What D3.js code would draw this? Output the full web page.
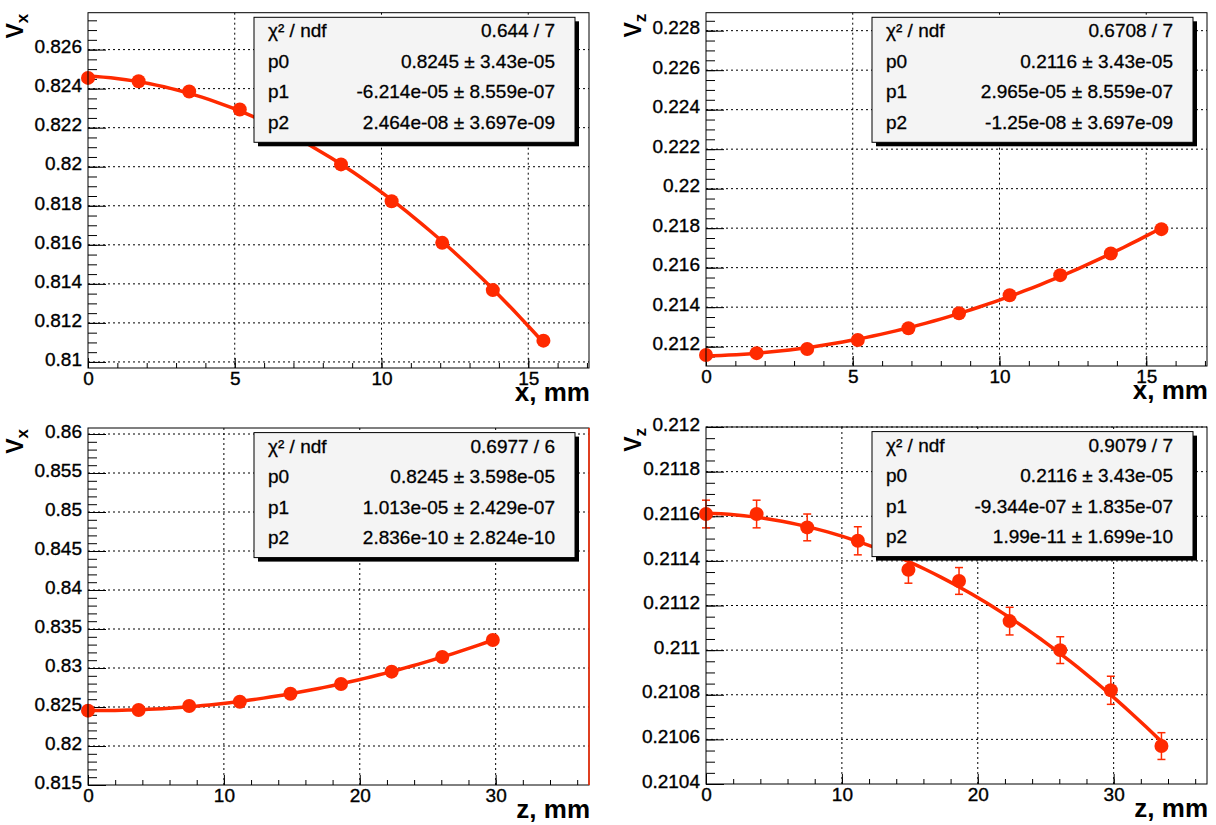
<!DOCTYPE html>
<html>
<head>
<meta charset="utf-8">
<script src="https://cdn.jsdelivr.net/npm/d3@7"></script>
<style>
  body { margin: 0; background: #fff; }
  svg { display: block; }
</style>
</head>
<body>
<svg id="chart" width="1216" height="825"></svg>
<script>
// positions along the scan, mm
const xPositions = [0, 1.724, 3.448, 5.172, 6.897, 8.621, 10.345, 12.069, 13.793, 15.517];
const zPositions = [0, 3.724, 7.448, 11.172, 14.897, 18.621, 22.345, 26.069, 29.793, 33.517];

// measured components
const vxAlongX = [0.82455, 0.82438, 0.82385, 0.82293, 0.82165, 0.82012, 0.81823, 0.8161, 0.81368, 0.81109];
const vzAlongX = [0.21158, 0.21167, 0.21188, 0.21234, 0.21293, 0.21369, 0.2146, 0.21562, 0.21672, 0.21795];
const vxAlongZ = [0.82453, 0.82462, 0.82513, 0.82568, 0.8267, 0.82795, 0.82953, 0.83141, 0.83359];
const vzAlongZ = [0.21161, 0.21161, 0.21155, 0.21149, 0.21136, 0.21131, 0.21113, 0.211, 0.21082, 0.21057];
const vzAlongZErr = [0.000062, 0.000062, 0.00006, 0.000063, 0.00006, 0.00006, 0.000062, 0.00006, 0.000063, 0.00006];

// tick labels
const xTicksShort = [0, 5, 10, 15];
const xTicksLong = [0, 10, 20, 30];
const yTicksVxX = [0.81, 0.812, 0.814, 0.816, 0.818, 0.82, 0.822, 0.824, 0.826];
const yTicksVzX = [0.212, 0.214, 0.216, 0.218, 0.22, 0.222, 0.224, 0.226, 0.228];
const yTicksVxZ = [0.815, 0.82, 0.825, 0.83, 0.835, 0.84, 0.845, 0.85, 0.855, 0.86];
const yTicksVzZ = [0.2104, 0.2106, 0.2108, 0.211, 0.2112, 0.2114, 0.2116, 0.2118, 0.212];

// fit statistics boxes
const statRowLabels = ["χ² / ndf", "p0", "p1", "p2"];
const statsVxX = ["0.644 / 7", "0.8245 ± 3.43e-05", "-6.214e-05 ± 8.559e-07", "2.464e-08 ± 3.697e-09"];
const statsVzX = ["0.6708 / 7", "0.2116 ± 3.43e-05", "2.965e-05 ± 8.559e-07", "-1.25e-08 ± 3.697e-09"];
const statsVxZ = ["0.6977 / 6", "0.8245 ± 3.598e-05", "1.013e-05 ± 2.429e-07", "2.836e-10 ± 2.824e-10"];
const statsVzZ = ["0.9079 / 7", "0.2116 ± 3.43e-05", "-9.344e-07 ± 1.835e-07", "1.99e-11 ± 1.699e-10"];

const red = "#ff2a00";
const font = "'Liberation Sans', Arial, Helvetica, sans-serif";
const svg = d3.select("#chart");

const panels = [
  { frame: [88, 12.7, 589, 368], xs: xPositions, ys: vxAlongX, errs: null,
    xDomain: [0, 17.07], yDomain: [0.80969, 0.82789], xTicks: xTicksShort, xMinor: 1,
    yTicks: yTicksVxX, yMinor: 0.0005, yName: "x", xName: "x, mm", stats: statsVxX },
  { frame: [706, 12.7, 1207, 366], xs: xPositions, ys: vzAlongX, errs: null,
    xDomain: [0, 17.07], yDomain: [0.21102, 0.22891], xTicks: xTicksShort, xMinor: 1,
    yTicks: yTicksVzX, yMinor: 0.0005, yName: "z", xName: "x, mm", stats: statsVzX },
  { frame: [88, 428, 589, 785], xs: zPositions.slice(0, vxAlongZ.length), ys: vxAlongZ, errs: null,
    xDomain: [0, 36.87], yDomain: [0.815, 0.86077], xTicks: xTicksLong, xMinor: 2,
    yTicks: yTicksVxZ, yMinor: 0.001, yName: "x", xName: "z, mm", stats: statsVxZ, redEdge: true },
  { frame: [706, 427, 1207, 784], xs: zPositions, ys: vzAlongZ, errs: vzAlongZErr,
    xDomain: [0, 36.87], yDomain: [0.2104, 0.212], xTicks: xTicksLong, xMinor: 2,
    yTicks: yTicksVzZ, yMinor: 0.00005, yName: "z", xName: "z, mm", stats: statsVzZ }
];

const fmt = d => String(+d.toFixed(5));
const minorRange = (dom, step) => d3.range(Math.ceil(dom[0] / step - 1e-6) * step, dom[1], step);

// least squares pol2 through the points, like the fit drawn in the original
function fitPol2(xs, ys) {
  const S = k => d3.sum(xs, v => Math.pow(v, k));
  const T = k => d3.sum(xs, (v, i) => Math.pow(v, k) * ys[i]);
  const m = [[S(0), S(1), S(2), T(0)], [S(1), S(2), S(3), T(1)], [S(2), S(3), S(4), T(2)]];
  for (let c = 0; c < 3; c++) {
    for (let r = c + 1; r < 3; r++) {
      const f = m[r][c] / m[c][c];
      for (let k = c; k < 4; k++) m[r][k] -= f * m[c][k];
    }
  }
  const a = [0, 0, 0];
  for (let r = 2; r >= 0; r--) {
    let s = m[r][3];
    for (let k = r + 1; k < 3; k++) s -= m[r][k] * a[k];
    a[r] = s / m[r][r];
  }
  return v => a[0] + a[1] * v + a[2] * v * v;
}

panels.forEach(p => {
  const [x0, y0, x1, y1] = p.frame;
  const x = d3.scaleLinear().domain(p.xDomain).range([x0, x1]);
  const y = d3.scaleLinear().domain(p.yDomain).range([y1, y0]);
  const g = svg.append("g");

  // grid
  g.selectAll(null).data(p.xTicks.filter(d => d > p.xDomain[0])).enter().append("line")
    .attr("x1", d => x(d)).attr("x2", d => x(d)).attr("y1", y0).attr("y2", y1)
    .attr("stroke", "#000").attr("stroke-dasharray", "2,3");
  g.selectAll(null).data(p.yTicks.filter(d => d > p.yDomain[0] + 1e-9)).enter().append("line")
    .attr("x1", x0).attr("x2", x1).attr("y1", d => y(d)).attr("y2", d => y(d))
    .attr("stroke", "#000").attr("stroke-dasharray", "2,3");

  // axes, ticks pointing inward
  const xMinorAxis = g.append("g").attr("transform", `translate(0,${y1})`)
    .call(d3.axisBottom(x).tickValues(minorRange(p.xDomain, p.xMinor)).tickSize(-5).tickFormat(""));
  const xAxis = g.append("g").attr("transform", `translate(0,${y1})`)
    .call(d3.axisBottom(x).tickValues(p.xTicks).tickSize(-10).tickPadding(3).tickFormat(fmt));
  const yMinorAxis = g.append("g").attr("transform", `translate(${x0},0)`)
    .call(d3.axisLeft(y).tickValues(minorRange(p.yDomain, p.yMinor)).tickSize(-9).tickFormat(""));
  const yAxis = g.append("g").attr("transform", `translate(${x0},0)`)
    .call(d3.axisLeft(y).tickValues(p.yTicks).tickSize(-18).tickPadding(6).tickFormat(fmt));

  [xMinorAxis, xAxis, yMinorAxis, yAxis].forEach(a => {
    a.select(".domain").remove();
    a.selectAll(".tick line").attr("stroke", "#000");
    a.selectAll(".tick text")
      .attr("fill", "#000").attr("stroke", "#000").attr("stroke-width", 0.35)
      .style("font-family", font)
      .style("font-size", "19px");
  });
  yAxis.selectAll(".tick text").attr("dy", "0.17em");

  // fitted curve
  const pts = p.xs.map((d, i) => ({ x: d, y: p.ys[i], e: p.errs ? p.errs[i] : 0 }));
  const f = fitPol2(p.xs, p.ys);
  const xsFit = d3.range(0, 61).map(i => p.xs[0] + (p.xs[p.xs.length - 1] - p.xs[0]) * i / 60);
  const line = d3.line().x(d => x(d)).y(d => y(f(d)));
  g.append("path").datum(xsFit).attr("d", line)
    .attr("fill", "none").attr("stroke", red).attr("stroke-width", 3.5);

  // error bars
  if (p.errs) {
    const eb = g.selectAll(null).data(pts).enter().append("g").attr("stroke", red).attr("stroke-width", 1.5);
    eb.append("line").attr("x1", d => x(d.x)).attr("x2", d => x(d.x))
      .attr("y1", d => y(d.y - d.e)).attr("y2", d => y(d.y + d.e));
    eb.append("line").attr("x1", d => x(d.x) - 4).attr("x2", d => x(d.x) + 4)
      .attr("y1", d => y(d.y - d.e)).attr("y2", d => y(d.y - d.e));
    eb.append("line").attr("x1", d => x(d.x) - 4).attr("x2", d => x(d.x) + 4)
      .attr("y1", d => y(d.y + d.e)).attr("y2", d => y(d.y + d.e));
  }

  // markers
  g.selectAll(null).data(pts).enter().append("circle")
    .attr("cx", d => x(d.x)).attr("cy", d => y(d.y)).attr("r", 7).attr("fill", red);

  // frame
  g.append("rect").attr("x", x0).attr("y", y0).attr("width", x1 - x0).attr("height", y1 - y0)
    .attr("fill", "none").attr("stroke", "#000");
  if (p.redEdge) {
    g.append("line").attr("x1", x1).attr("x2", x1).attr("y1", y0).attr("y2", y1)
      .attr("stroke", red).attr("stroke-width", 1.5);
  }

  // stats box
  const bx = x0 + 166, by = y0 + 4.6, bw = 321, bh = 125;
  g.append("rect").attr("x", bx + 4).attr("y", by + 4).attr("width", bw).attr("height", bh).attr("fill", "#000");
  g.append("rect").attr("x", bx).attr("y", by).attr("width", bw).attr("height", bh)
    .attr("fill", "#f4f4f4").attr("stroke", "#000");
  const rows = g.selectAll(null).data(statRowLabels).enter().append("g")
    .attr("transform", (d, i) => `translate(0,${by + 20 + i * 30.5})`)
    .attr("stroke", "#000").attr("stroke-width", 0.3)
    .style("font-family", font).style("font-size", "19px");
  rows.append("text").attr("x", bx + 14).text(d => d);
  rows.append("text").attr("x", bx + bw - 20).attr("text-anchor", "end").text((d, i) => p.stats[i]);

  // axis titles
  const yt = g.append("text")
    .attr("transform", `translate(${x0 - 65},${y0 + 1}) rotate(-90)`)
    .attr("text-anchor", "end")
    .style("font-family", font).style("font-weight", "bold").style("font-size", "23px");
  yt.append("tspan").text("V");
  yt.append("tspan").attr("dy", 5).style("font-size", "17px").text(p.yName);

  g.append("text").attr("x", x1 + 1).attr("y", y1 + 33).attr("text-anchor", "end")
    .style("font-family", font).style("font-weight", "bold").style("font-size", "26px")
    .text(p.xName);
});
</script>
</body>
</html>
